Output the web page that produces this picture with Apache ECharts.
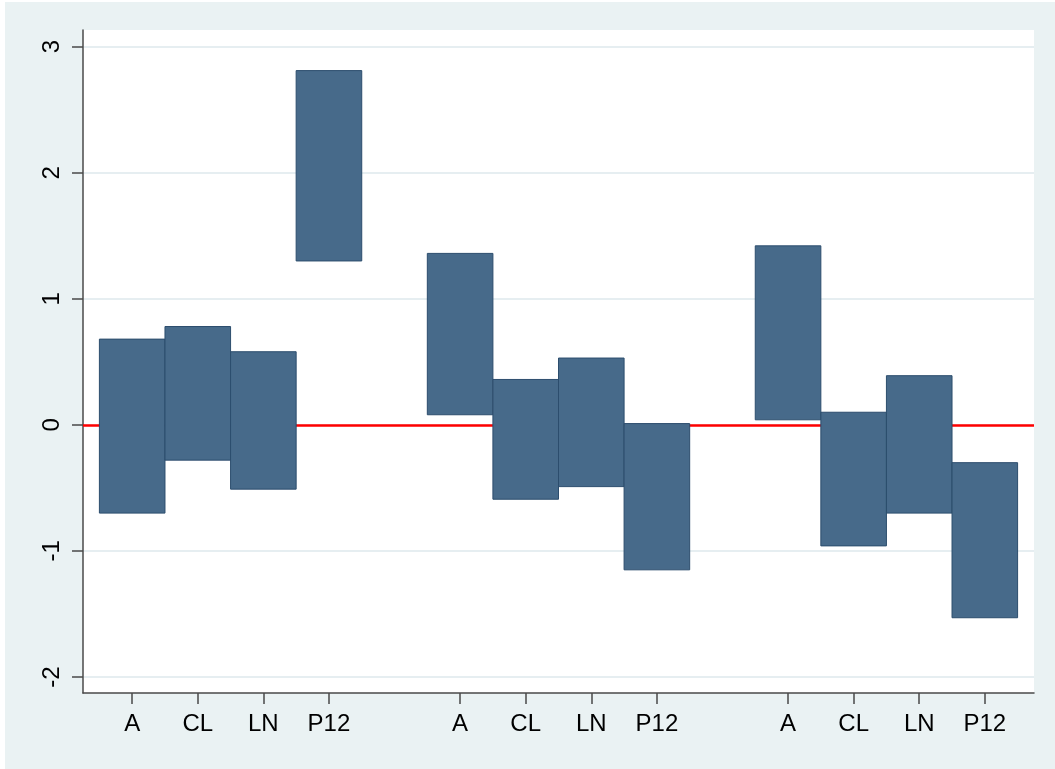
<!DOCTYPE html>
<html>
<head>
<meta charset="utf-8">
<script src="https://cdn.jsdelivr.net/npm/echarts@6/dist/echarts.min.js"></script>
<style>
  html, body { margin: 0; padding: 0; background: #ffffff; }
  #chart { position: absolute; left: 5px; top: 2px; width: 1050px; height: 767px; }
</style>
</head>
<body>
<div id="chart"></div>
<script>
// Three groups of four range bars (low/high), one empty slot between groups
const slots      = [1, 2, 3, 4, 6, 7, 8, 9, 11, 12, 13, 14];
const categories = ['A', 'CL', 'LN', 'P12', 'A', 'CL', 'LN', 'P12', 'A', 'CL', 'LN', 'P12'];
const lowValues  = [-0.70, -0.28, -0.51, 1.30, 0.08, -0.59, -0.49, -1.15, 0.04, -0.96, -0.70, -1.53];
const highValues = [0.68, 0.78, 0.58, 2.81, 1.36, 0.36, 0.53, 0.01, 1.42, 0.10, 0.39, -0.30];
const yTicks     = [-2, -1, 0, 1, 2, 3];

const barData = slots.map((s, i) => [s, lowValues[i], highValues[i]]);
const labelAt = {};
slots.forEach((s, i) => { labelAt[s] = categories[i]; });

const chart = echarts.init(document.getElementById('chart'));
const font = '"Liberation Sans", Arial, sans-serif';

chart.setOption({
  backgroundColor: '#EAF2F3',
  animation: false,
  grid: {
    left: 78, right: 21, top: 28, bottom: 76,
    show: true, backgroundColor: '#ffffff', borderWidth: 0
  },
  xAxis: {
    type: 'value', min: 0.25, max: 14.75,
    axisLine: { show: true, onZero: false, lineStyle: { color: '#4a4a4a', width: 1.5 } },
    axisTick: { show: true, length: 11, customValues: slots, lineStyle: { color: '#4a4a4a', width: 1.5 } },
    axisLabel: {
      customValues: slots, margin: 19,
      formatter: v => labelAt[v] || '',
      color: '#000', fontSize: 24, fontFamily: font
    },
    splitLine: { show: false }
  },
  yAxis: {
    type: 'value', min: -2.127, max: 3.132,
    axisLine: { show: true, onZero: false, lineStyle: { color: '#4a4a4a', width: 1.5 } },
    axisTick: { show: true, length: 11, customValues: yTicks, lineStyle: { color: '#4a4a4a', width: 1.5 } },
    axisLabel: {
      customValues: yTicks, rotate: 90, margin: 19,
      color: '#000', fontSize: 24, fontFamily: font
    },
    splitLine: { show: true, lineStyle: { color: '#E6EEF1', width: 2 } }
  },
  series: [
    {
      // zero reference line, kept beneath the bars
      type: 'line', data: [], silent: true, z: 1,
      markLine: {
        silent: true, symbol: 'none', label: { show: false }, z: 1,
        lineStyle: { color: '#FF0000', width: 2.5, type: 'solid' },
        data: [{ yAxis: 0 }]
      }
    },
    {
      type: 'custom', z: 10,
      data: barData,
      encode: { x: 0, y: [1, 2] },
      renderItem: function (params, api) {
        const x = api.value(0);
        const p0 = api.coord([x - 0.5, api.value(2)]);
        const p1 = api.coord([x + 0.5, api.value(1)]);
        return {
          type: 'rect',
          shape: { x: p0[0], y: p0[1], width: p1[0] - p0[0], height: p1[1] - p0[1] },
          style: { fill: '#476A8A', stroke: '#2C4D6D', lineWidth: 1 }
        };
      }
    }
  ]
});
</script>
</body>
</html>
